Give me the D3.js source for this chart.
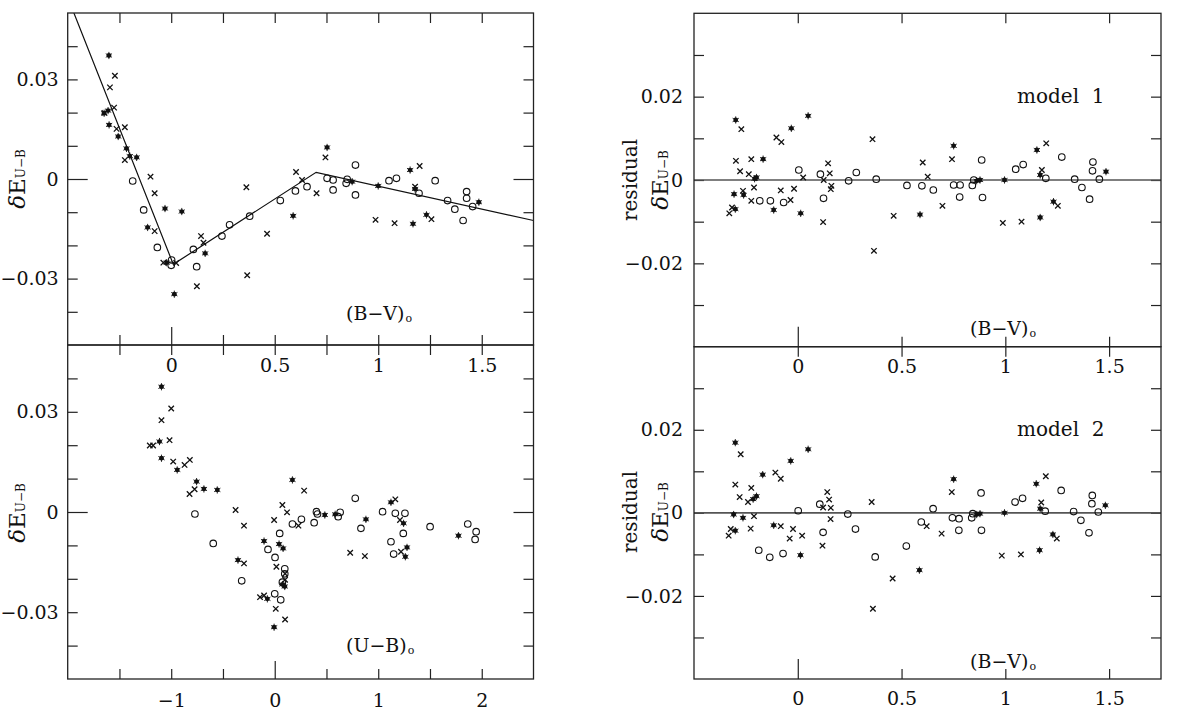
<!DOCTYPE html>
<html>
<head>
<meta charset="utf-8">
<script src="https://d3js.org/d3.v7.min.js"></script>
<style>
  body { margin: 0; background: #fff; }
  svg { display: block; }
  text { font-family: 'DejaVu Serif', serif; fill: #111; }
</style>
</head>
<body>
<div id="chart"></div>
<script>
// ---- data ----
// top left: (B-V)o vs dE(U-B)
const bvStars = [[-0.301,0.0372],[-0.324,0.0198],[-0.305,0.0206],[-0.300,0.0163],[-0.256,0.0128],[-0.216,0.0092],
  [-0.200,0.0069],[-0.167,0.0065],[-0.114,-0.0146],[-0.030,-0.0089],[0.051,-0.0098],[-0.022,-0.0252],[0.015,-0.0347],
  [0.164,-0.0224],[0.589,-0.0111],[0.753,0.0095],[0.874,-0.0008],[1.000,-0.0021],[1.154,0.0027],[1.178,-0.0030],
  [1.233,-0.0108],[1.168,-0.0135],[1.486,-0.0070]];
const bvCrosses = [[-0.272,0.0311],[-0.296,0.0276],[-0.276,0.0215],[-0.323,0.0199],[-0.264,0.0151],[-0.224,0.0156],
  [-0.224,0.0057],[-0.100,0.0007],[-0.080,-0.0043],[-0.080,-0.0157],[-0.038,-0.0252],[0.024,-0.0253],[0.144,-0.0172],
  [0.156,-0.0192],[0.124,-0.0323],[0.363,-0.0025],[0.367,-0.0290],[0.463,-0.0165],[0.603,0.0021],[0.632,-0.0003],
  [0.702,-0.0043],[0.745,0.0065],[0.987,-0.0123],[1.079,-0.0133],[1.200,0.0039],[1.178,-0.0023],[1.257,-0.0121]];
const bvCircles = [[-0.186,-0.0006],[-0.133,-0.0093],[-0.067,-0.0206],[0.002,-0.0244],[0.000,-0.0260],[0.107,-0.0212],
  [0.123,-0.0264],[0.245,-0.0172],[0.282,-0.0138],[0.379,-0.0112],[0.527,-0.0065],[0.600,-0.0036],[0.656,-0.0023],
  [0.753,0.0002],[0.782,-0.0003],[0.782,-0.0033],[0.890,0.0042],[0.850,-0.0001],[0.845,-0.0013],[0.890,-0.0048],
  [1.052,-0.0005],[1.088,0.0002],[1.275,-0.0005],[1.197,-0.0043],[1.335,-0.0065],[1.370,-0.0091],[1.410,-0.0125],
  [1.427,-0.0038],[1.427,-0.0058],[1.456,-0.0083]];
// broken-line fit drawn in the top left panel
const fitBV = [-0.47, 0.01, 0.70, 1.75];
const fitDE = [0.05, -0.0257, 0.002, -0.0125];

// bottom left: (U-B)o vs dE(U-B)
const ubStars = [[-1.094,0.0375],[-1.113,0.0211],[-1.094,0.0161],[-0.942,0.0126],[-0.755,0.0091],[-0.684,0.0069],
  [-0.555,0.0066],[0.171,0.0096],[0.484,-0.0009],[0.584,-0.0007],[-0.103,-0.0087],[0.042,-0.0096],[0.081,-0.0109],
  [-0.355,-0.0144],[0.074,-0.0217],[0.097,-0.0223],[-0.071,-0.0260],[-0.006,-0.0345],[0.881,-0.0022],[1.123,0.0029],
  [1.245,-0.0034],[1.278,-0.0106],[1.262,-0.0134],[1.775,-0.0071]];
const ubCrosses = [[-1.000,0.0310],[-1.094,0.0275],[-1.016,0.0215],[-1.207,0.0199],[-1.175,0.0199],[-0.981,0.0151],
  [-0.871,0.0141],[-0.820,0.0156],[-0.823,0.0054],[-0.774,0.0068],[-0.378,0.0006],[-0.297,-0.0041],[-0.297,-0.0154],
  [0.074,0.0021],[0.119,-0.0001],[0.284,0.0064],[-0.006,-0.0024],[0.229,-0.0041],[0.016,-0.0164],[0.100,-0.0185],
  [0.100,-0.0203],[-0.142,-0.0255],[-0.103,-0.0250],[0.010,-0.0290],[0.100,-0.0322],[0.729,-0.0122],[0.871,-0.0132],
  [1.165,0.0038],[1.210,-0.0024],[1.220,-0.0119]];
const ubCircles = [[-0.771,-0.0006],[-0.594,-0.0094],[-0.319,-0.0206],[0.048,-0.0064],[-0.065,-0.0112],[0.003,-0.0136],
  [0.097,-0.0170],[0.097,-0.0185],[0.074,-0.0210],[0.000,-0.0245],[0.058,-0.0263],[0.171,-0.0036],[0.258,-0.0022],
  [0.381,-0.0032],[0.403,0.0001],[0.413,-0.0006],[0.613,-0.0014],[0.632,-0.0001],[0.778,0.0041],[0.833,-0.0049],
  [1.042,0.0001],[1.165,-0.0004],[1.258,-0.0004],[1.242,-0.0064],[1.123,-0.0089],[1.149,-0.0126],[1.501,-0.0044],
  [1.865,-0.0036],[1.946,-0.0059],[1.936,-0.0082]];

// top right: model 1 residuals vs (B-V)o
const m1Stars = [[-0.299,0.0144],[-0.031,0.0124],[0.050,0.0154],[-0.167,0.0050],[-0.199,0.0006],[-0.208,0.0003],
  [-0.307,-0.0034],[-0.261,-0.0036],[-0.301,-0.0070],[-0.116,-0.0072],[0.014,-0.0080],[0.751,0.0082],[0.589,-0.0083],
  [0.862,-0.0002],[0.878,0.0000],[0.996,0.0000],[1.152,0.0072],[1.168,0.0012],[1.232,-0.0052],[1.168,-0.0090],
  [1.485,0.0020]];
const m1Crosses = [[-0.272,0.0122],[-0.298,0.0046],[-0.224,0.0050],[-0.278,0.0021],[-0.236,0.0014],[-0.211,-0.0018],
  [-0.264,-0.0026],[-0.317,-0.0066],[-0.330,-0.0080],[-0.224,-0.0050],[-0.103,0.0102],[-0.079,0.0091],[-0.082,-0.0025],
  [-0.035,-0.0048],[-0.018,-0.0021],[0.026,0.0006],[0.146,0.0040],[0.154,0.0016],[0.125,0.0000],[0.162,-0.0014],
  [0.159,-0.0022],[0.122,-0.0101],[0.360,0.0098],[0.367,-0.0170],[0.462,-0.0086],[0.602,0.0042],[0.626,0.0008],
  [0.697,-0.0062],[0.743,0.0050],[0.988,-0.0103],[1.078,-0.0100],[1.197,0.0088],[1.176,0.0024],[1.253,-0.0062]];
const m1Circles = [[-0.183,-0.0050],[-0.132,-0.0050],[-0.068,-0.0054],[0.005,0.0024],[0.109,0.0014],[0.124,-0.0044],
  [0.245,-0.0002],[0.282,0.0018],[0.378,0.0002],[0.526,-0.0013],[0.598,-0.0014],[0.653,-0.0024],[0.751,-0.0012],
  [0.782,-0.0012],[0.780,-0.0041],[0.848,0.0000],[0.841,-0.0013],[0.886,0.0048],[0.890,-0.0042],[1.050,0.0026],
  [1.086,0.0037],[1.195,0.0004],[1.272,0.0055],[1.334,0.0002],[1.369,-0.0018],[1.406,-0.0046],[1.422,0.0043],
  [1.420,0.0022],[1.453,0.0002]];

// bottom right: model 2 residuals vs (B-V)o
const m2Stars = [[-0.301,0.0169],[0.050,0.0153],[-0.034,0.0125],[-0.169,0.0092],[-0.199,0.0040],[-0.215,0.0033],
  [-0.309,-0.0004],[-0.264,-0.0012],[-0.301,-0.0043],[-0.116,-0.0030],[0.013,-0.0102],[0.751,0.0081],[0.586,-0.0138],
  [0.862,-0.0004],[0.878,-0.0002],[0.996,0.0000],[1.149,0.0070],[1.168,0.0010],[1.229,-0.0052],[1.165,-0.0090],
  [1.482,0.0018]];
const m2Crosses = [[-0.275,0.0141],[-0.301,0.0068],[-0.224,0.0060],[-0.280,0.0038],[-0.240,0.0026],[-0.211,-0.0008],
  [-0.227,-0.0038],[-0.323,-0.0039],[-0.333,-0.0055],[-0.108,0.0097],[-0.082,0.0082],[-0.082,-0.0032],[-0.023,-0.0039],
  [-0.039,-0.0062],[0.021,-0.0055],[0.142,0.0050],[0.151,0.0032],[0.122,0.0013],[0.159,0.0012],[0.158,-0.0015],
  [0.119,-0.0079],[0.356,0.0026],[0.362,-0.0231],[0.457,-0.0158],[0.621,-0.0032],[0.693,-0.0050],[0.742,0.0050],
  [0.983,-0.0103],[1.075,-0.0100],[1.195,0.0088],[1.173,0.0025],[1.248,-0.0062]];
const m2Circles = [[-0.188,-0.0090],[-0.135,-0.0107],[-0.071,-0.0098],[0.002,0.0005],[0.106,0.0021],[0.122,-0.0047],
  [0.241,-0.0003],[0.278,-0.0039],[0.373,-0.0106],[0.523,-0.0080],[0.595,-0.0022],[0.652,0.0010],[0.745,-0.0012],
  [0.777,-0.0014],[0.776,-0.0042],[0.843,-0.0002],[0.838,-0.0012],[0.883,0.0048],[0.885,-0.0042],[1.047,0.0026],
  [1.083,0.0035],[1.192,0.0004],[1.269,0.0054],[1.329,0.0003],[1.364,-0.0018],[1.403,-0.0048],[1.419,0.0042],
  [1.417,0.0022],[1.448,0.0002]];

// ---- ticks and tick labels ----
const bvLabels = [0, 0.5, 1, 1.5];
const bvMinor = [-0.25, 0.25, 0.5, 0.75, 1, 1.25, 1.5];
const ubLabels = [-1, 0, 1, 2];
const ubMinor = [-1.5, -1, -0.5, 0.5, 1, 1.5, 2];
const dLabels = [-0.03, 0, 0.03];
const dMinor = [-0.04, -0.03, -0.02, -0.01, 0.01, 0.02, 0.03, 0.04];
const rLabels = [-0.02, 0, 0.02];
const rMinor = [-0.03, -0.02, -0.01, 0, 0.01, 0.02, 0.03];

const fmt = d => d < 0 ? "\u2212" + Math.abs(d) : String(d);

const svg = d3.select("#chart").append("svg")
  .attr("width", 1177).attr("height", 719);

function makePanel(box, xd, yd) {
  return {
    box,
    x: d3.scaleLinear().domain(xd).range([box.l, box.r]),
    y: d3.scaleLinear().domain(yd).range([box.b, box.t])
  };
}

const tl = makePanel({ l: 67.7, r: 533.5, t: 13, b: 345 }, [-0.5, 1.75], [-0.05, 0.05]);
const bl = makePanel({ l: 67.7, r: 533.5, t: 345, b: 679 }, [-2, 2.5], [-0.05, 0.05]);
const tr = makePanel({ l: 694, r: 1161, t: 13.3, b: 346.7 }, [-0.5, 1.75], [-0.04, 0.04]);
const br = makePanel({ l: 694, r: 1161, t: 346.7, b: 679 }, [-0.5, 1.75], [-0.04, 0.04]);

// inward tick marks via d3 axes
function ticks(axisFn, scale, vals, len, tx, ty) {
  svg.append("g")
    .attr("transform", `translate(${tx},${ty})`)
    .attr("color", "#222")
    .call(axisFn(scale).tickValues(vals).tickSize(-len).tickFormat(""))
    .call(g => g.select(".domain").remove())
    .selectAll("line").attr("stroke-width", 1.2);
}

function tickLabels(axisFn, scale, vals, pad, tx, ty) {
  svg.append("g")
    .attr("transform", `translate(${tx},${ty})`)
    .call(axisFn(scale).tickValues(vals).tickSize(0).tickPadding(pad).tickFormat(fmt))
    .call(g => g.select(".domain").remove())
    .attr("font-family", "'DejaVu Serif', serif")
    .attr("font-size", 19);
}

function frame(p) {
  svg.append("rect")
    .attr("x", p.box.l).attr("y", p.box.t)
    .attr("width", p.box.r - p.box.l).attr("height", p.box.b - p.box.t)
    .attr("fill", "none").attr("stroke", "#222").attr("stroke-width", 1.3);
}

function points(p, data, kind) {
  const g = svg.append("g").selectAll(null).data(data).join("g")
    .attr("transform", d => `translate(${p.x(d[0])},${p.y(d[1])})`);
  if (kind === "star") {
    g.append("path").attr("d", d3.symbol(d3.symbolCircle, 18)).attr("fill", "#111");
    g.append("path").attr("d", d3.symbol(d3.symbolAsterisk, 36))
      .attr("fill", "none").attr("stroke", "#111").attr("stroke-width", 0.9);
  } else if (kind === "cross") {
    g.append("path").attr("d", d3.symbol(d3.symbolTimes, 21))
      .attr("fill", "none").attr("stroke", "#111").attr("stroke-width", 1.3);
  } else {
    g.append("path").attr("d", d3.symbol(d3.symbolCircle, 34))
      .attr("fill", "none").attr("stroke", "#111").attr("stroke-width", 1.1);
  }
}

function colourLabel(x, y, main) {
  const t = svg.append("text").attr("x", x).attr("y", y).attr("font-size", 19);
  t.append("tspan").text(main);
  t.append("tspan").attr("font-size", 11).attr("dy", 2).attr("dx", 1).text("o");
}

function yTitle(x, y, withResidual) {
  if (withResidual) {
    svg.append("text").attr("transform", `translate(${x - 31},${y}) rotate(-90)`)
      .attr("text-anchor", "middle").attr("font-size", 20).text("residual");
  }
  const t = svg.append("text").attr("transform", `translate(${x},${y}) rotate(-90)`)
    .attr("text-anchor", "middle").attr("font-size", 23);
  t.append("tspan").attr("font-style", "italic").text("\u03b4");
  t.append("tspan").text("E");
  t.append("tspan").attr("font-size", 12).text("U\u2212B");
}

// ---- left column ----
[tl, bl].forEach(p => {
  ticks(d3.axisLeft, p.y, dMinor, 10, p.box.l, 0);
  ticks(d3.axisLeft, p.y, [0], 20, p.box.l, 0);
  ticks(d3.axisRight, p.y, dMinor, 10, p.box.r, 0);
  ticks(d3.axisRight, p.y, [0], 20, p.box.r, 0);
  tickLabels(d3.axisLeft, p.y, dLabels, 9, p.box.l, 0);
});
ticks(d3.axisTop, tl.x, [...bvMinor, 0], 10, 0, tl.box.t);
ticks(d3.axisBottom, tl.x, bvMinor, 10, 0, tl.box.b);
ticks(d3.axisBottom, tl.x, [0], 18, 0, tl.box.b);
tickLabels(d3.axisBottom, tl.x, bvLabels, 14, 0, tl.box.b);

ticks(d3.axisTop, bl.x, [...ubMinor, 0], 10, 0, bl.box.t);
ticks(d3.axisBottom, bl.x, ubMinor, 10, 0, bl.box.b);
ticks(d3.axisBottom, bl.x, [0], 18, 0, bl.box.b);
tickLabels(d3.axisBottom, bl.x, ubLabels, 15, 0, bl.box.b);

// ---- right column ----
[tr, br].forEach(p => {
  ticks(d3.axisLeft, p.y, rMinor, 10, p.box.l, 0);
  ticks(d3.axisRight, p.y, rMinor, 10, p.box.r, 0);
  tickLabels(d3.axisLeft, p.y, rLabels, 11, p.box.l, 0);
  ticks(d3.axisTop, p.x, bvLabels, 10, 0, p.box.t);
  ticks(d3.axisBottom, p.x, bvLabels.slice(1), 10, 0, p.box.b);
  ticks(d3.axisBottom, p.x, [0], 20, 0, p.box.b);
  tickLabels(d3.axisBottom, p.x, bvLabels, 13, 0, p.box.b);
  svg.append("line")
    .attr("x1", p.box.l).attr("x2", p.box.r)
    .attr("y1", p.y(0)).attr("y2", p.y(0))
    .attr("stroke", "#555").attr("stroke-width", 1.6);
});

// fit line, clipped to the panel
svg.append("clipPath").attr("id", "clipTL").append("rect")
  .attr("x", tl.box.l).attr("y", tl.box.t)
  .attr("width", tl.box.r - tl.box.l).attr("height", tl.box.b - tl.box.t);
svg.append("path")
  .datum(d3.zip(fitBV, fitDE))
  .attr("clip-path", "url(#clipTL)")
  .attr("d", d3.line().x(d => tl.x(d[0])).y(d => tl.y(d[1])))
  .attr("fill", "none").attr("stroke", "#111").attr("stroke-width", 1.2);

// markers
points(tl, bvCircles, "circle"); points(tl, bvCrosses, "cross"); points(tl, bvStars, "star");
points(bl, ubCircles, "circle"); points(bl, ubCrosses, "cross"); points(bl, ubStars, "star");
points(tr, m1Circles, "circle"); points(tr, m1Crosses, "cross"); points(tr, m1Stars, "star");
points(br, m2Circles, "circle"); points(br, m2Crosses, "cross"); points(br, m2Stars, "star");

[tl, bl, tr, br].forEach(frame);

// texts
colourLabel(346, 320, "(B\u2212V)");
colourLabel(346, 652, "(U\u2212B)");
colourLabel(970, 335, "(B\u2212V)");
colourLabel(970, 668, "(B\u2212V)");

svg.append("text").attr("x", 1017).attr("y", 103).attr("font-size", 20).text("model\u00a0\u00a01");
svg.append("text").attr("x", 1017).attr("y", 436).attr("font-size", 20).text("model\u00a0\u00a02");

yTitle(25, 179, false);
yTitle(25, 513, false);
yTitle(668, 180, true);
yTitle(668, 512, true);
</script>
</body>
</html>
